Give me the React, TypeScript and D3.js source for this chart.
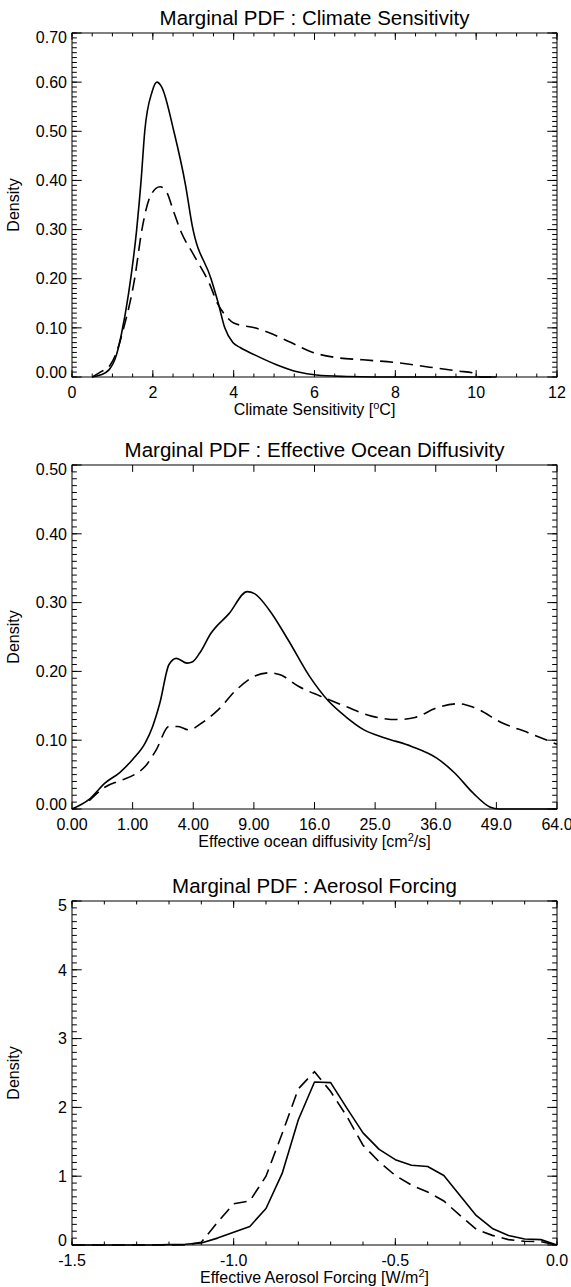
import React, { useRef, useEffect } from 'react';
import * as d3 from 'd3';

// ---- panel 1 : climate sensitivity ----
const csSolidX = [0.5, 0.7, 0.92, 1.1, 1.23, 1.4, 1.6, 1.71, 1.8, 1.98, 2.1, 2.22, 2.52, 2.81, 2.97, 3.44, 3.62, 3.78, 3.98, 4.16, 4.52, 5.06, 5.6, 6.05, 6.8, 7.5, 10.5];
const csSolidY = [0, 0.004, 0.015, 0.045, 0.09, 0.17, 0.30, 0.40, 0.50, 0.58, 0.60, 0.59, 0.50, 0.39, 0.31, 0.20, 0.15, 0.10, 0.07, 0.06, 0.045, 0.025, 0.01, 0.004, 0.001, 0, 0];
const csDashX = [0.5, 0.7, 0.95, 1.1, 1.28, 1.55, 1.73, 1.95, 2.18, 2.35, 2.5, 2.7, 3.0, 3.4, 3.6, 3.8, 4.0, 4.52, 4.88, 5.42, 5.96, 6.5, 7.2, 7.95, 8.85, 9.57, 9.93, 10.1, 10.5];
const csDashY = [0, 0.01, 0.025, 0.05, 0.10, 0.20, 0.30, 0.37, 0.387, 0.375, 0.34, 0.295, 0.25, 0.19, 0.15, 0.125, 0.11, 0.10, 0.09, 0.07, 0.05, 0.04, 0.035, 0.03, 0.02, 0.012, 0.008, 0, 0];
const csXTicks = [0, 2, 4, 6, 8, 10, 12];
const csYTicks = [0, 0.1, 0.2, 0.3, 0.4, 0.5, 0.6, 0.7];

// ---- panel 2 : effective ocean diffusivity ----
const kvSolidX = [0, 0.08, 0.30, 0.62, 1.0, 1.46, 1.77, 2.10, 2.56, 2.96, 3.61, 3.96, 4.45, 5.24, 6.71, 8.35, 9.06, 10.6, 12.7, 15.4, 17.8, 20.4, 23.2, 26.8, 31.4, 36.2, 39.9, 43.8, 47.5, 49.6, 64];
const kvSolidY = [0, 0.014, 0.038, 0.053, 0.072, 0.096, 0.12, 0.154, 0.21, 0.219, 0.212, 0.214, 0.227, 0.255, 0.284, 0.316, 0.313, 0.289, 0.246, 0.192, 0.158, 0.134, 0.115, 0.103, 0.091, 0.074, 0.052, 0.023, 0.003, 0, 0];
const kvDashX = [0.08, 0.30, 0.62, 1.06, 1.46, 1.93, 2.56, 3.06, 3.72, 4.58, 5.81, 7.34, 9.06, 10.6, 11.8, 14.0, 16.8, 20.4, 24.4, 28.7, 32.0, 36.2, 40.7, 43.8, 50.4, 56.6, 64];
const kvDashY = [0.012, 0.032, 0.041, 0.05, 0.062, 0.086, 0.12, 0.12, 0.115, 0.125, 0.144, 0.173, 0.193, 0.198, 0.195, 0.178, 0.164, 0.149, 0.135, 0.130, 0.133, 0.147, 0.153, 0.148, 0.125, 0.111, 0.094];
const kvXTicks = [0, 1, 4, 9, 16, 25, 36, 49, 64];
const kvYTicks = [0, 0.1, 0.2, 0.3, 0.4, 0.5];

// ---- panel 3 : aerosol forcing ----
const afX = [-1.5, -1.45, -1.4, -1.35, -1.3, -1.25, -1.2, -1.15, -1.1, -1.05, -1.0, -0.95, -0.9, -0.85, -0.8, -0.75, -0.7, -0.65, -0.6, -0.55, -0.5, -0.45, -0.4, -0.35, -0.3, -0.25, -0.2, -0.15, -0.1, -0.05, 0];
const afSolid = [0, 0, 0, 0, 0, 0, 0.005, 0.01, 0.03, 0.10, 0.185, 0.27, 0.53, 1.04, 1.82, 2.37, 2.36, 1.99, 1.63, 1.39, 1.24, 1.16, 1.14, 1.01, 0.72, 0.43, 0.24, 0.137, 0.088, 0.078, 0];
const afDash = [0, 0, 0, 0, 0, 0, 0, 0, 0.04, 0.33, 0.60, 0.64, 1.0, 1.62, 2.27, 2.52, 2.23, 1.87, 1.45, 1.21, 1.01, 0.87, 0.77, 0.64, 0.43, 0.23, 0.14, 0.078, 0.054, 0.049, 0];
const afXTicks = [-1.5, -1.0, -0.5, 0.0];
const afYTicks = [0, 1, 2, 3, 4, 5];

const FONT = "'Liberation Sans', Arial, Helvetica, sans-serif";
const LEFT = 72;
const RIGHT = 557;
const PH = 344;

const zip = (xs, ys) => xs.map((x, i) => [x, ys[i]]);

function drawPanel(svg, cfg) {
    const top = cfg.top;
    const bottom = top + PH;
    const x = cfg.xScale.range([LEFT, RIGHT]);
    const y = d3.scaleLinear().domain(cfg.yDomain).range([bottom, top]);
    const g = svg.append("g");

    // frame
    g.append("rect")
        .attr("x", LEFT).attr("y", top)
        .attr("width", RIGHT - LEFT).attr("height", PH)
        .attr("fill", "none").attr("stroke", "#000").attr("stroke-width", 1);

    const xMaj = 0.02 * PH, yMaj = 0.02 * (RIGHT - LEFT);
    const tick = (x1, y1, x2, y2) => g.append("line")
        .attr("x1", x1).attr("y1", y1).attr("x2", x2).attr("y2", y2)
        .attr("stroke", "#000").attr("stroke-width", 1);

    // x ticks (bottom and top)
    cfg.xMinor.forEach(v => {
        tick(x(v), bottom, x(v), bottom - xMaj / 2);
        tick(x(v), top, x(v), top + xMaj / 2);
    });
    cfg.xTicks.forEach(v => {
        tick(x(v), bottom, x(v), bottom - xMaj);
        tick(x(v), top, x(v), top + xMaj);
        g.append("text")
            .attr("x", x(v)).attr("y", bottom + 20.5)
            .attr("text-anchor", "middle")
            .style("font-size", "16px")
            .text(cfg.xFormat(v));
    });

    // y ticks (left and right)
    cfg.yMinor.forEach(v => {
        tick(LEFT, y(v), LEFT + yMaj / 2, y(v));
        tick(RIGHT, y(v), RIGHT - yMaj / 2, y(v));
    });
    cfg.yTicks.forEach(v => {
        tick(LEFT, y(v), LEFT + yMaj, y(v));
        tick(RIGHT, y(v), RIGHT - yMaj, y(v));
        const ly = Math.max(top + 4.5, Math.min(bottom - 4.5, y(v)));
        g.append("text")
            .attr("x", LEFT - 5).attr("y", ly)
            .attr("dy", "0.36em")
            .attr("text-anchor", "end")
            .style("font-size", "16px")
            .text(cfg.yFormat(v));
    });

    // curves
    const line = d3.line()
        .x(d => x(d[0]))
        .y(d => y(d[1]))
        .curve(cfg.curve);
    g.append("path")
        .attr("d", line(cfg.solid))
        .attr("fill", "none").attr("stroke", "#000").attr("stroke-width", 1.6)
        .attr("stroke-linejoin", "round");
    g.append("path")
        .attr("d", line(cfg.dashed))
        .attr("fill", "none").attr("stroke", "#000").attr("stroke-width", 1.6)
        .attr("stroke-dasharray", "13,7");

    // titles
    const mid = (LEFT + RIGHT) / 2;
    g.append("text")
        .attr("x", mid).attr("y", top - 8.5)
        .attr("text-anchor", "middle")
        .style("font-size", "20.5px")
        .text(cfg.title);

    const xt = g.append("text")
        .attr("x", mid).attr("y", bottom + 38)
        .attr("text-anchor", "middle")
        .style("font-size", "16px");
    cfg.xTitle.forEach(p => {
        if (p.sup) {
            xt.append("tspan").attr("dy", -6).style("font-size", "11px").text(p.text);
        } else {
            xt.append("tspan").attr("dy", p.after ? 6 : 0).text(p.text);
        }
    });

    g.append("text")
        .attr("transform", `translate(19,${(top + bottom) / 2}) rotate(-90)`)
        .attr("text-anchor", "middle")
        .style("font-size", "16px")
        .text("Density");
}

const App = () => {
    const svgRef = useRef();

    useEffect(() => {
        const svg = d3.select(svgRef.current);
        svg.selectAll("*").remove();

        const step = (a, b, s) => d3.range(Math.round((b - a) / s) + 1).map(i => +(a + i * s).toFixed(4));

        drawPanel(svg, {
            top: 33,
            title: "Marginal PDF : Climate Sensitivity",
            xTitle: [{ text: "Climate Sensitivity [" }, { text: "o", sup: true }, { text: "C]", after: true }],
            xScale: d3.scaleLinear().domain([0, 12]),
            yDomain: [0, 0.7],
            xTicks: csXTicks,
            xMinor: step(0, 12, 0.5),
            yTicks: csYTicks,
            yMinor: step(0, 0.7, 0.01),
            xFormat: v => String(v),
            yFormat: v => v.toFixed(2),
            solid: zip(csSolidX, csSolidY),
            dashed: zip(csDashX, csDashY),
            curve: d3.curveMonotoneX,
        });

        drawPanel(svg, {
            top: 465,
            title: "Marginal PDF : Effective Ocean Diffusivity",
            xTitle: [{ text: "Effective ocean diffusivity [cm" }, { text: "2", sup: true }, { text: "/s]", after: true }],
            xScale: d3.scaleSqrt().domain([0, 64]),
            yDomain: [0, 0.5],
            xTicks: kvXTicks,
            xMinor: [],
            yTicks: kvYTicks,
            yMinor: step(0, 0.5, 0.01),
            xFormat: v => (v < 10 ? v.toFixed(2) : v.toFixed(1)),
            yFormat: v => v.toFixed(2),
            solid: zip(kvSolidX, kvSolidY),
            dashed: zip(kvDashX, kvDashY),
            curve: d3.curveMonotoneX,
        });

        drawPanel(svg, {
            top: 901,
            title: "Marginal PDF : Aerosol Forcing",
            xTitle: [{ text: "Effective Aerosol Forcing [W/m" }, { text: "2", sup: true }, { text: "]", after: true }],
            xScale: d3.scaleLinear().domain([-1.5, 0]),
            yDomain: [0, 5],
            xTicks: afXTicks,
            xMinor: step(-1.5, 0, 0.1),
            yTicks: afYTicks,
            yMinor: step(0, 5, 0.1),
            xFormat: v => v.toFixed(1),
            yFormat: v => String(v),
            solid: zip(afX, afSolid),
            dashed: zip(afX, afDash),
            curve: d3.curveLinear,
        });
    }, []);

    return (
        <svg ref={svgRef} width={571} height={1287}
            style={{ position: "absolute", left: 0, top: 0, background: "#fff", fontFamily: FONT }}>
        </svg>
    );
};

export default App;
